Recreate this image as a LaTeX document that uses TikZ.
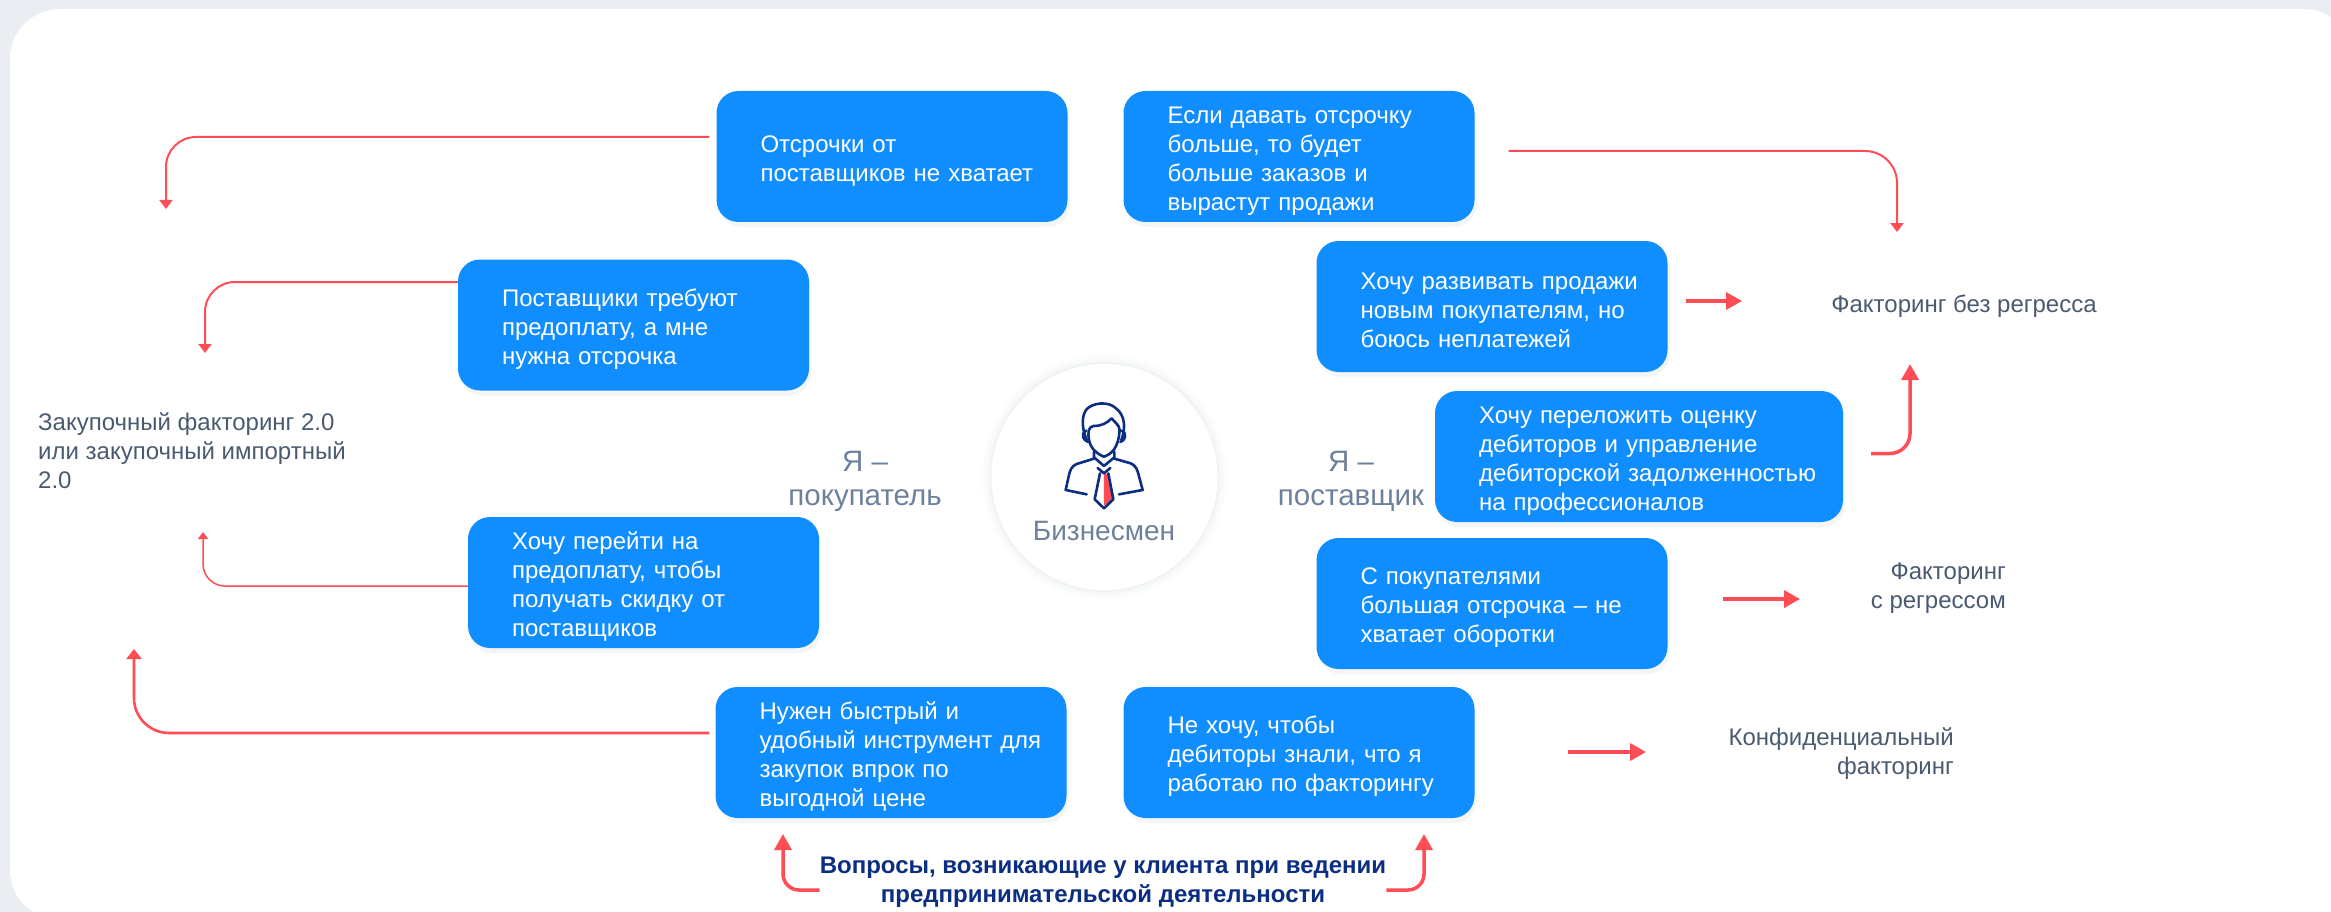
\documentclass[tikz,border=0pt]{standalone}
\usepackage{fontspec}
\setmainfont{Liberation Sans}
\usetikzlibrary{arrows.meta, shadows}

\definecolor{pagegrey}{HTML}{EAEEF2}
\definecolor{askblue}{HTML}{108EFF}
\definecolor{linkred}{HTML}{FF4D55}
\definecolor{textgrey}{HTML}{4A5A70}
\definecolor{rolegrey}{HTML}{6E819C}
\definecolor{navy}{HTML}{0B2E83}

\tikzset{
    askbox/.style={fill=askblue, text=white, rounded corners=22, inner xsep=0, inner ysep=0,
        text width=351, text height=25pt, minimum height=131, align=left,
        font=\fontsize{24}{29}\selectfont, execute at begin node={\leftskip=44pt},
        general shadow={shadow yshift=5, shadow xshift=2, fill=rolegrey, opacity=.08}},
    product/.style={text=textgrey, inner sep=0, font=\fontsize{24}{29}\selectfont},
    role/.style={text=rolegrey, inner sep=0, align=center, font=\fontsize{29.5}{34}\selectfont},
    thinlink/.style={draw=linkred, line width=2, -{Triangle[length=9, width=13]}},
    boldlink/.style={draw=linkred, line width=3.5, -{Triangle[length=16, width=17]}},
    iconline/.style={draw=navy, line width=2.6, line join=round, line cap=round}
}

\begin{document}
\begin{tikzpicture}[x=1pt, y=-1pt]

\useasboundingbox (0,0) rectangle (2331,912);
\clip (0,0) rectangle (2331,912);
\fill[pagegrey] (0,0) rectangle (2331,912);
\fill[white, rounded corners=50] (10,9) rectangle (2354,920);

% left questions
\node[askbox] (q-delay) at (892,156.5) {Отсрочки от\\поставщиков не хватает};
\node[askbox] (q-prepay) at (633.5,325) {Поставщики требуют\\предоплату, а мне\\нужна отсрочка};
\node[askbox] (q-discount) at (643.5,582.5) {Хочу перейти на\\предоплату, чтобы\\получать скидку от\\поставщиков};
\node[askbox] (q-stock) at (891,752.5) {Нужен быстрый и\\удобный инструмент для\\закупок впрок по\\выгодной цене};

% right questions
\node[askbox] (q-orders) at (1299,156.5) {Если давать отсрочку\\больше, то будет\\больше заказов и\\вырастут продажи};
\node[askbox] (q-sales) at (1492,306.5) {Хочу развивать продажи\\новым покупателям, но\\боюсь неплатежей};
\node[askbox, text width=408] (q-outsource) at (1639,456.5) {Хочу переложить оценку\\дебиторов и управление\\дебиторской задолженностью\\на профессионалов};
\node[askbox] (q-funds) at (1492,603.5) {С покупателями\\большая отсрочка – не\\хватает оборотки};
\node[askbox] (q-secret) at (1299,752.5) {Не хочу, чтобы\\дебиторы знали, что я\\работаю по факторингу};

% products
\node[product, align=left, anchor=west] (f-purchase) at (38,451) {Закупочный факторинг 2.0\\или закупочный импортный\\2.0};
\node[product] (f-noreg) at (1964,306) {Факторинг без регресса};
\node[product, align=right, anchor=east] (f-reg) at (2006,588) {Факторинг\\с регрессом};
\node[product, align=right, anchor=east] (f-conf) at (1954,754) {Конфиденциальный\\факторинг};

% roles
\node[role] (r-buyer) at (865,481) {Я –\\покупатель};
\node[role] (r-seller) at (1351,481) {Я –\\поставщик};

\node[text=navy, align=center, inner sep=0, font=\fontsize{24}{29}\selectfont\bfseries] (q-title) at (1103,882)
    {Вопросы, возникающие у клиента при ведении\\предпринимательской деятельности};

% free ends
\coordinate (t-delay) at (166,209);
\coordinate (t-prepay) at (205,353);
\coordinate (t-discount) at (203,532);
\coordinate (t-stock) at (134,649);
\coordinate (t-orders) at (1897,232);
\coordinate (t-sales) at (1742,301);
\coordinate (t-outsource) at (1910,364);
\coordinate (t-funds) at (1800,599);
\coordinate (t-secret) at (1646,752);
\coordinate (t-left) at (783,834);
\coordinate (t-right) at (1424,834);

% thin links
\draw[thinlink, rounded corners=30, shorten <=7] ([yshift=19.5] q-delay.west) -| (t-delay);
\draw[thinlink, rounded corners=30] ([yshift=43] q-prepay.west) -| (t-prepay);
\draw[thinlink, line width=1.5, rounded corners=22, -{Triangle[length=7, width=10]}] ([yshift=-3.5] q-discount.west) -| (t-discount);
\draw[thinlink, rounded corners=32, shorten <=34] ([yshift=5.5] q-orders.east) -| (t-orders);

% bold links
\draw[boldlink, line width=2.6, rounded corners=35, shorten <=6, -{Triangle[length=10, width=15]}] ([yshift=19.5] q-stock.west) -| (t-stock);
\draw[boldlink, shorten <=18] (q-sales.east |- t-sales) -- (t-sales);
\draw[boldlink, rounded corners=20, shorten <=28] ([yshift=3] q-outsource.east) -| (t-outsource);
\draw[boldlink, shorten <=55] (q-funds.east |- t-funds) -- (t-funds);
\draw[boldlink, shorten <=93] (q-secret.east |- t-secret) -- (t-secret);
\draw[boldlink, rounded corners=16] ([yshift=-8] q-title.west) -| (t-left);
\draw[boldlink, rounded corners=16] ([yshift=-8] q-title.east) -| (t-right);

% center
\foreach \s/\o in {10/.015, 7/.02, 4/.025, 2/.03}
    \fill[rolegrey, opacity=\o] (1104.5,477) circle[radius=113+\s];
\node[circle, fill=white, minimum size=226, inner sep=0] (boss) at (1104.5,477) {};
\node[inner sep=0, text=rolegrey, font=\fontsize{28}{30}\selectfont] (boss-name) at (1104,531) {Бизнесмен};

% icon, coordinates of the 3x crop
\begin{scope}[shift={(960,340)}, scale=.3333]
    \fill[linkred] (432,402) -- (445,402) -- (460,478) -- (432,497) -- cycle;
    \draw[iconline] (380,300) .. controls (368,270) and (362,235) .. (378,210)
        .. controls (395,188) and (445,182) .. (468,205)
        .. controls (495,225) and (498,265) .. (484,300);
    \draw[iconline] (387,300) .. controls (383,275) and (385,262) .. (400,258)
        .. controls (425,258) and (440,250) .. (455,235)
        .. controls (465,248) and (478,255) .. (479,270);
    \draw[iconline] (387,300) .. controls (392,325) and (410,342) .. (432,350)
        .. controls (455,342) and (475,325) .. (479,270);
    \draw[iconline] (378,272) .. controls (362,280) and (368,302) .. (385,306);
    \draw[iconline] (486,272) .. controls (502,280) and (496,302) .. (481,306);
    \draw[iconline] (402,335) -- (402,352) -- (432,378) -- (463,352) -- (463,335);
    \draw[iconline] (402,356) -- (350,372) .. controls (335,378) and (330,392) .. (327,405) -- (317,450) -- (380,463);
    \draw[iconline] (463,356) -- (512,370) .. controls (528,376) and (533,392) .. (536,405) -- (548,450) -- (477,463);
    \draw[iconline] (413,384) -- (432,400) -- (451,384);
    \draw[iconline] (420,400) -- (404,478) -- (432,505) -- (460,478) -- (445,400);
\end{scope}

\end{tikzpicture}
\end{document}
